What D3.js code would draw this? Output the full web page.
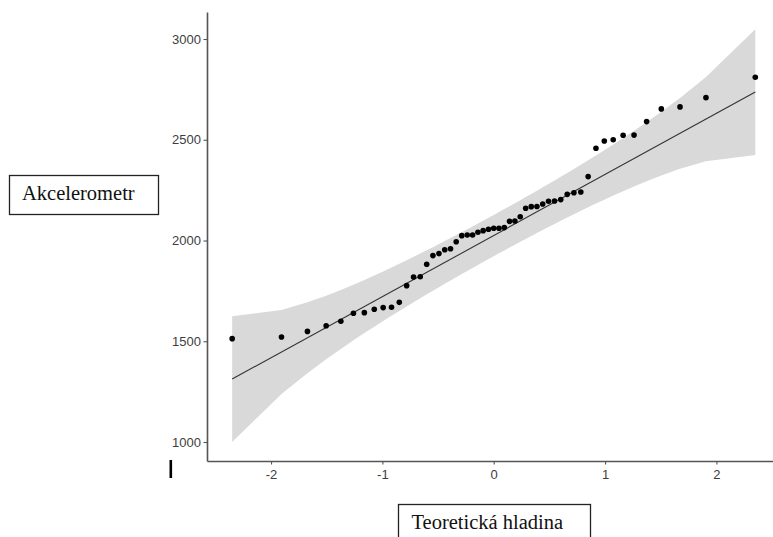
<!DOCTYPE html>
<html>
<head>
<meta charset="utf-8">
<script src="https://cdn.jsdelivr.net/npm/d3@7"></script>
<style>
  html, body { margin: 0; padding: 0; background: #fff; }
  svg { display: block; }
</style>
</head>
<body>
<svg id="chart" width="773" height="537"></svg>
<script>
// Normal theoretical quantiles for n = 53 (ppoints)
const theoretical = [
  -2.349, -1.906, -1.673, -1.505, -1.373, -1.260, -1.162, -1.073, -0.993, -0.918,
  -0.848, -0.782, -0.720, -0.660, -0.602, -0.546, -0.492, -0.440, -0.388, -0.337,
  -0.287, -0.238, -0.190, -0.142, -0.095, -0.047, 0.000, 0.047, 0.095, 0.142,
  0.190, 0.238, 0.287, 0.337, 0.388, 0.440, 0.492, 0.546, 0.602, 0.660,
  0.720, 0.782, 0.848, 0.918, 0.993, 1.073, 1.162, 1.260, 1.373, 1.505,
  1.673, 1.906, 2.349
];

// Sorted accelerometer sample
const sample = [
  1513, 1521, 1549, 1577, 1599, 1639, 1642, 1659, 1667, 1669,
  1693, 1776, 1819, 1820, 1882, 1925, 1935, 1954, 1959, 1994,
  2024, 2027, 2027, 2041, 2049, 2056, 2061, 2061, 2064, 2095,
  2097, 2118, 2160, 2168, 2169, 2181, 2195, 2196, 2203, 2229,
  2237, 2241, 2317, 2458, 2494, 2500, 2522, 2523, 2590, 2653,
  2663, 2709, 2810
];

const xTicks = [-2, -1, 0, 1, 2];
const yTicks = [1000, 1500, 2000, 2500, 3000];
const yTitle = "Akcelerometr";
const xTitle = "Teoretická hladina";

const svg = d3.select("#chart");

const x = d3.scaleLinear().domain([-2.575, 2.508]).range([207, 773]);
const y = d3.scaleLinear().domain([905.7, 3134]).range([461, 12]);

// Reference line through the quartiles
const q1 = d3.quantile(sample, 0.25), q3 = d3.quantile(sample, 0.75);
const z1 = -0.6744898, z3 = 0.6744898;
const slope = (q3 - q1) / (z3 - z1);
const intercept = q1 - slope * z1;

// Pointwise 95% confidence band
const n = sample.length;
const zz = 1.959964;
const dnorm = z => Math.exp(-z * z / 2) / Math.sqrt(2 * Math.PI);
const band = theoretical.map((z, i) => {
  const p = (i + 1 - 0.5) / n;
  const se = (slope / dnorm(z)) * Math.sqrt(p * (1 - p) / n);
  const fit = intercept + slope * z;
  return { z, lo: fit - zz * se, hi: fit + zz * se };
});

svg.append("path")
  .datum(band)
  .attr("fill", "#d9d9d9")
  .attr("d", d3.area()
    .x(d => x(d.z))
    .y0(d => y(d.lo))
    .y1(d => y(d.hi)));

const zEnds = [theoretical[0], theoretical[n - 1]];
svg.append("line")
  .attr("x1", x(zEnds[0])).attr("y1", y(intercept + slope * zEnds[0]))
  .attr("x2", x(zEnds[1])).attr("y2", y(intercept + slope * zEnds[1]))
  .attr("stroke", "#333")
  .attr("stroke-width", 1.1);

svg.append("g")
  .selectAll("circle")
  .data(sample)
  .join("circle")
  .attr("cx", (d, i) => x(theoretical[i]))
  .attr("cy", d => y(d))
  .attr("r", 2.8)
  .attr("fill", "#000");

// Axes (plain hyphen for negative labels)
const fmt = d => String(d);
const xAxis = svg.append("g")
  .attr("transform", "translate(0,461)")
  .call(d3.axisBottom(x).tickValues(xTicks).tickSize(3.5).tickSizeOuter(0).tickFormat(fmt));
const yAxis = svg.append("g")
  .attr("transform", "translate(207,0)")
  .call(d3.axisLeft(y).tickValues(yTicks).tickSize(3.5).tickSizeOuter(0).tickFormat(fmt));

[xAxis, yAxis].forEach(g => {
  g.select(".domain").attr("stroke", "#555").attr("stroke-width", 1.6);
  g.selectAll(".tick line").attr("stroke", "#555").attr("stroke-width", 1.1);
  g.selectAll(".tick text")
    .attr("fill", "#3d3d3d")
    .style("font-family", "'Liberation Sans', Arial, sans-serif")
    .style("font-size", "13px");
});
xAxis.selectAll(".tick text").attr("dy", "0.9em");
yAxis.selectAll(".tick text").attr("x", -6);

// Axis titles in boxes
function boxedLabel(bx, by, bw, bh, tx, ty, text) {
  svg.append("rect")
    .attr("x", bx).attr("y", by).attr("width", bw).attr("height", bh)
    .attr("fill", "#fff").attr("stroke", "#222").attr("stroke-width", 1.3);
  svg.append("text")
    .attr("x", tx).attr("y", ty)
    .attr("fill", "#111")
    .style("font-family", "'Liberation Serif', 'Times New Roman', serif")
    .style("font-size", "20.5px")
    .text(text);
}
boxedLabel(9.5, 175.5, 149, 39, 22, 199.5, yTitle);
boxedLabel(398.5, 504.5, 192, 42, 411.5, 528.5, xTitle);

// Small vertical mark below the axis corner
svg.append("rect")
  .attr("x", 169.5).attr("y", 460).attr("width", 2.6).attr("height", 18)
  .attr("fill", "#000");
</script>
</body>
</html>
